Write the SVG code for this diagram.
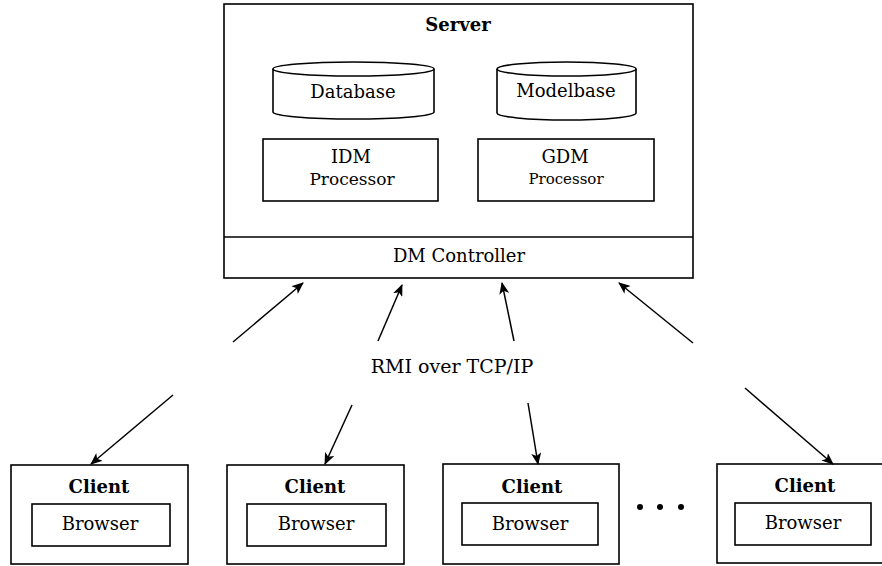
<svg xmlns="http://www.w3.org/2000/svg" width="882" height="566" viewBox="0 0 882 566">
<style>
.box{fill:#fff;stroke:#000;stroke-width:1.6}
.t{font-family:"DejaVu Serif","Liberation Serif",serif;font-size:18px;fill:#000;text-anchor:middle}
.b{font-weight:bold}
.c{stroke:#000;stroke-width:1.5;fill:none;marker-end:url(#ah)}
</style>
<defs>
<marker id="ah" viewBox="0 0 12 10" refX="11" refY="5" markerWidth="12" markerHeight="10" markerUnits="userSpaceOnUse" orient="auto">
<path d="M0,0 L12,5 L0,10 L3,5 Z" fill="#000"/>
</marker>
</defs>
<rect width="882" height="566" fill="#fff"/>
<g id="server">
<rect class="box" x="224" y="4" width="469" height="274"/>
<line x1="224" y1="237" x2="693" y2="237" stroke="#000" stroke-width="1.6"/>
<text class="t b" x="458" y="31">Server</text>
<text class="t" x="459" y="262">DM Controller</text>
</g>
<g id="database">
<path class="box" d="M273,69 L273,112 A80.5,7 0 0 0 434,112 L434,69"/>
<ellipse class="box" cx="353.5" cy="69" rx="80.5" ry="7"/>
<text class="t" x="353" y="98">Database</text>
</g>
<g id="modelbase">
<path class="box" d="M497,69 L497,113 A69.5,7 0 0 0 636,113 L636,69"/>
<ellipse class="box" cx="566.5" cy="69" rx="69.5" ry="7"/>
<text class="t" x="566" y="97">Modelbase</text>
</g>
<g id="idm">
<rect class="box" x="263" y="139" width="175" height="62"/>
<text class="t" x="351" y="163">IDM</text>
<text class="t" x="352" y="185" style="font-size:17px">Processor</text>
</g>
<g id="gdm">
<rect class="box" x="478" y="139" width="176" height="62"/>
<text class="t" x="565" y="163">GDM</text>
<text class="t" x="566" y="184" style="font-size:15px">Processor</text>
</g>
<text class="t" x="452" y="373" style="font-size:19px">RMI over TCP/IP</text>
<g id="client1">
<rect class="box" x="11" y="465" width="177" height="99"/>
<text class="t b" x="99" y="493">Client</text>
<rect class="box" x="32" y="504" width="138" height="42"/>
<text class="t" x="100" y="530">Browser</text>
</g>
<g id="client2">
<rect class="box" x="227" y="465" width="177" height="99"/>
<text class="t b" x="315" y="493">Client</text>
<rect class="box" x="247" y="504" width="139" height="42"/>
<text class="t" x="316" y="530">Browser</text>
</g>
<g id="client3">
<rect class="box" x="443" y="464" width="176" height="100"/>
<text class="t b" x="532" y="493">Client</text>
<rect class="box" x="462" y="503" width="136" height="42"/>
<text class="t" x="530" y="530">Browser</text>
</g>
<g id="client4">
<rect class="box" x="717" y="464" width="170" height="99"/>
<text class="t b" x="805" y="492">Client</text>
<rect class="box" x="735" y="503" width="136" height="42"/>
<text class="t" x="803" y="529">Browser</text>
</g>
<g id="dots" fill="#000">
<circle cx="640" cy="507" r="3"/>
<circle cx="660" cy="507" r="3"/>
<circle cx="681" cy="507" r="3"/>
</g>
<g id="connectors">
<line class="c" x1="233" y1="342" x2="303" y2="283"/>
<line class="c" x1="378" y1="341" x2="402" y2="285"/>
<line class="c" x1="514" y1="341" x2="502" y2="283"/>
<line class="c" x1="693" y1="343" x2="619" y2="283"/>
<line class="c" x1="173" y1="395" x2="91" y2="464"/>
<line class="c" x1="352" y1="405" x2="325" y2="464"/>
<line class="c" x1="528" y1="403" x2="538" y2="464"/>
<line class="c" x1="745" y1="388" x2="833" y2="464"/>
</g>
</svg>
